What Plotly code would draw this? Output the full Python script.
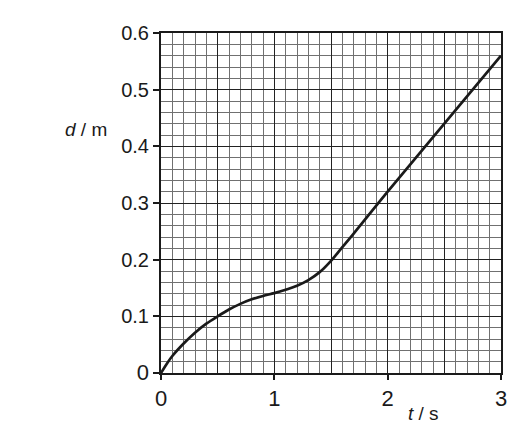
import plotly.graph_objects as go

# data
t_s = [0, 0.05, 0.1, 0.2, 0.3, 0.4, 0.5, 0.6, 0.7, 0.8, 0.9, 1.0, 1.1, 1.2, 1.3, 1.4, 1.5, 1.6, 1.7, 2.0, 2.5, 3.0]
d_m = [0, 0.016, 0.030, 0.052, 0.071, 0.087, 0.100, 0.112, 0.122, 0.130, 0.136, 0.141, 0.147, 0.154, 0.164, 0.178, 0.198, 0.222, 0.246, 0.320, 0.440, 0.560]

x_tick_vals = [0, 1, 2, 3]
x_tick_text = ["0", "1", "2", "3"]
y_tick_vals = [0, 0.1, 0.2, 0.3, 0.4, 0.5, 0.6]
y_tick_text = ['<span style="font-size:22px">0</span>', "0.1", "0.2", "0.3", "0.4", "0.5", "0.6"]

FONT = "Liberation Sans, Arial, sans-serif"
INK = "#1a1a1a"

fig = go.Figure()
fig.add_trace(go.Scatter(
    x=t_s, y=d_m, mode="lines",
    line=dict(color=INK, width=2.7, shape="spline", smoothing=1.0),
    showlegend=False, hoverinfo="skip", xaxis="x", yaxis="y",
))
# invisible trace for the tick axis
fig.add_trace(go.Scatter(x=[0, 3], y=[0, 0], mode="markers", marker=dict(opacity=0),
                         showlegend=False, hoverinfo="skip", xaxis="x2", yaxis="y"))

fig.update_layout(
    width=513, height=439, autosize=False,
    margin=dict(l=161, r=12, t=33, b=66, autoexpand=False),
    paper_bgcolor="white", plot_bgcolor="white",
    font=dict(family=FONT, color=INK),
    xaxis=dict(
        range=[0, 3], dtick=0.5, tick0=0, automargin=False,
        showgrid=True, gridcolor="#222222", gridwidth=1.1,
        showticklabels=False, ticks="",
        showline=True, linecolor=INK, linewidth=2, mirror=True,
        zeroline=False,
        minor=dict(dtick=0.1, tick0=0, showgrid=True, gridcolor="#707070", gridwidth=0.9, ticks=""),
    ),
    xaxis2=dict(
        range=[0, 3], overlaying="x", side="bottom", automargin=False,
        tickmode="array", tickvals=x_tick_vals, ticktext=x_tick_text,
        ticks="outside", ticklen=6, tickwidth=1.5, tickcolor=INK,
        tickfont=dict(family=FONT, size=22, color=INK),
        showgrid=False, zeroline=False, showline=False,
    ),
    yaxis=dict(
        range=[0, 0.6], automargin=False,
        tickmode="array", tickvals=y_tick_vals, ticktext=y_tick_text,
        ticks="outside", ticklen=6, tickwidth=1.5, tickcolor=INK,
        tickfont=dict(family=FONT, size=20, color=INK),
        showgrid=True, gridcolor="#222222", gridwidth=1.1,
        showline=True, linecolor=INK, linewidth=2, mirror=True,
        zeroline=False,
        minor=dict(dtick=0.02, tick0=0, showgrid=True, gridcolor="#707070", gridwidth=0.9, ticks=""),
    ),
    annotations=[
        dict(text="<i>d</i> / m", xref="paper", yref="paper", x=-0.22, y=0.715,
             xanchor="center", yanchor="middle", showarrow=False,
             font=dict(family=FONT, size=19, color=INK)),
        dict(text="<i>t</i> / s", xref="paper", yref="paper", x=0.772, y=-0.118,
             xanchor="center", yanchor="middle", showarrow=False,
             font=dict(family=FONT, size=19, color=INK)),
    ],
)

fig.write_html("out.html", config=dict(displayModeBar=False),
               post_script="document.body.style.margin='0';document.body.style.overflow='hidden';")
